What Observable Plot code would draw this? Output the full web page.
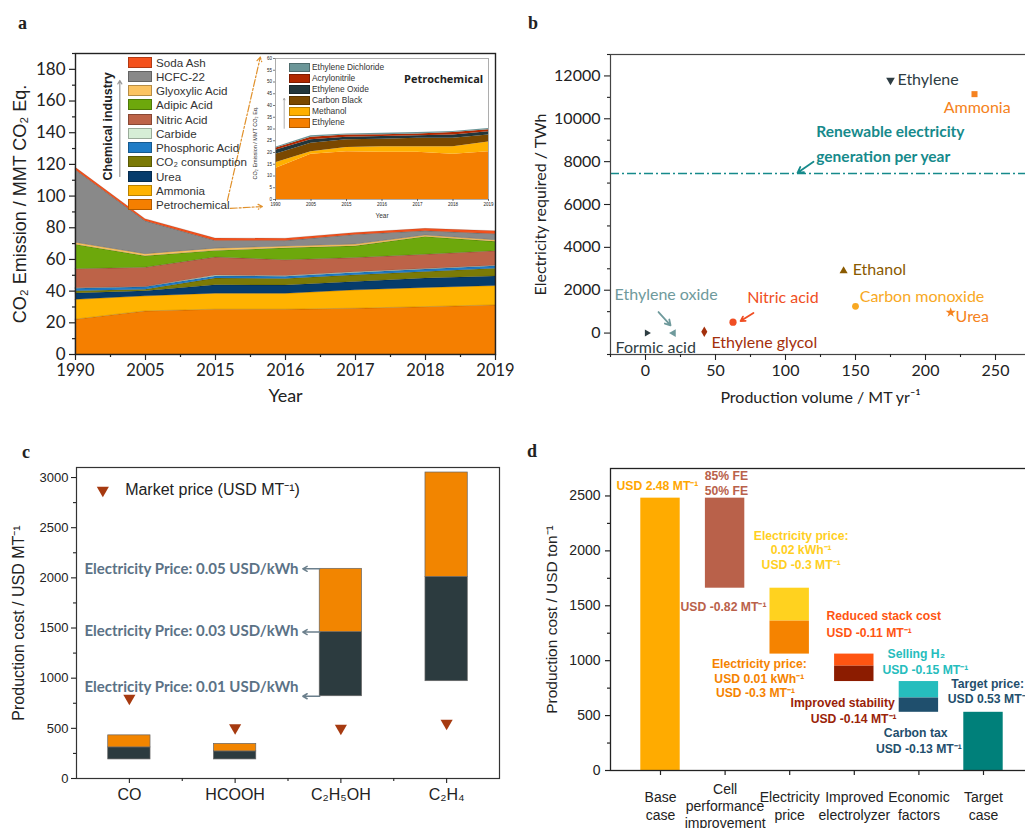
<!DOCTYPE html>
<html><head><meta charset="utf-8">
<script src="https://cdn.jsdelivr.net/npm/d3@7"></script>
<script src="https://cdn.jsdelivr.net/npm/@observablehq/plot@0.6"></script>
<style>
html,body{margin:0;padding:0;background:#fff}
body{width:1025px;height:828px;overflow:hidden;position:relative;font-family:"Liberation Sans",Arial,sans-serif;color:#222}
.box{position:absolute}
.plabel{position:absolute;font-family:"Liberation Serif","Times New Roman",serif;font-weight:bold;font-size:18px;line-height:18px}
.leg{position:absolute;white-space:nowrap}
</style></head><body>
<script>
// ================= Panel a data =================
const yearsA = ["1990","2005","2015","2016","2017","2018","2019"];
const seriesA = ["Petrochemical","Ammonia","Urea","CO₂ consumption","Phosphoric Acid","Carbide","Nitric Acid","Adipic Acid","Glyoxylic Acid","HCFC-22","Soda Ash"];
const colorsA = ["#f57f00","#ffb300","#063c6c","#7b7a06","#1f7cc6","#d6eed6","#bd6348","#6da80c","#fcc462","#898989","#f4511c"];
const petrochemicalA = [22, 27.2, 28.3, 28.3, 28.9, 29.9, 31];
const ammoniaA = [12.5, 9.5, 10.1, 10, 11.6, 12.1, 12.2];
const ureaA = [4, 3.3, 5.3, 5.2, 5.3, 5.9, 6.1];
const co2ConsumptionA = [1.5, 0.9, 4.2, 4.2, 4.2, 4.2, 4.9];
const phosphoricA = [1.5, 1.5, 1.4, 1.4, 1.5, 1.5, 1.5];
const carbideA = [0.3, 0.2, 0.5, 0.4, 0.4, 0.4, 0.4];
const nitricA = [12, 12.2, 11.4, 10, 9, 9, 9.1];
const adipicA = [15.5, 7.2, 4.2, 7.5, 7.4, 11.2, 5.9];
const glyoxylicA = [1.2, 1.3, 1.4, 1.1, 1.1, 0.9, 1];
const hcfc22A = [46, 20.8, 4.9, 3.5, 6.1, 2.7, 3.8];
const sodaAshA = [1.5, 1.3, 1.5, 1.5, 1.2, 1.5, 1.9];
const valuesA = [petrochemicalA, ammoniaA, ureaA, co2ConsumptionA, phosphoricA, carbideA, nitricA, adipicA, glyoxylicA, hcfc22A, sodaAshA];

// inset (petrochemical breakdown)
const seriesInset = ["Ethylene","Methanol","Carbon Black","Ethylene Oxide","Acrylonitrile","Ethylene Dichloride"];
const colorsInset = ["#f57f00","#ffb000","#7a4800","#22363b","#b02800","#6b9698"];
const ethyleneIn = [13.2, 19.3, 20.3, 20.1, 20.1, 19.3, 20.3];
const methanolIn = [2.4, 1.0, 1.8, 2.4, 2.4, 3.2, 4.2];
const carbonBlackIn = [3.7, 3.6, 3.3, 3.1, 3.6, 3.6, 3.0];
const ethyleneOxideIn = [1.7, 1.5, 1.1, 1.2, 1.0, 1.3, 1.3];
const acrylonitrileIn = [0.8, 1.1, 0.9, 0.8, 0.8, 1.1, 0.9];
const edcIn = [0.4, 0.6, 0.5, 0.6, 0.6, 0.4, 0.5];
const valuesInset = [ethyleneIn, methanolIn, carbonBlackIn, ethyleneOxideIn, acrylonitrileIn, edcIn];

// ================= Panel b data =================
const chemicalsB = ["Ethylene","Ammonia","Ethanol","Carbon monoxide","Urea","Nitric acid","Ethylene glycol","Ethylene oxide","Formic acid"];
const volumeB = [175, 235, 141.5, 150, 218, 62.5, 42, 20, 1];
const electricityB = [11800, 11150, 2900, 1250, 960, 510, 60, 0, 0];
const symbolB = ["triangle","square","triangle","circle","star","circle","diamond","triangle","triangle"];
const rotateB = [180, 0, 0, 0, 0, 0, 0, -90, 90];
const sizeB = [3.2, 3.4, 3, 3.4, 3.2, 3.6, 3.2, 2.9, 2.6];
const colorB = ["#2e3d43","#f58220","#8a5a00","#f8a823","#f58220","#f04e23","#a3300c","#6f9a9c","#2e3d43"];
const labelXB = [180, 213, 148, 153, 221.5, 72.6, 47.1, -22.1, -21.4];
const labelYB = [11810, 10520, 2930, 1670, 740, 1620, -480, 1770, -700];
const renewableB = 7450;
const renewableTextB = ["Renewable electricity", "generation per year"];
const renewableTextYB = [9380, 8210];
const arrowsB = [
  {x1: 120, y1: 7995, x2: 108.6, y2: 7480, c: "#168a8b"},
  {x1: 77.1, y1: 935, x2: 67.9, y2: 560, c: "#f04e23"},
  {x1: 9.3, y1: 980, x2: 17.9, y2: 360, c: "#6f9a9c"}
];

// ================= Panel c data =================
const productsC = ["CO","HCOOH","C₂H₅OH","C₂H₄"];
const costLowC = [190, 190, 820, 970];
const costMidC = [310, 270, 1460, 2010];
const costHighC = [430, 345, 2090, 3050];
const marketC = [800, 505, 500, 550];
const elecPriceTextC = ["Electricity Price: 0.05 USD/kWh","Electricity Price: 0.03 USD/kWh","Electricity Price: 0.01 USD/kWh"];
const elecPriceYC = [2084, 1468, 909];
const elecPriceArrowYC = [2090, 1460, 820];

// ================= Panel d data =================
const stepsD = ["Base\ncase","Cell\nperformance\nimprovement","Electricity\nprice","Improved\nelectrolyzer","Economic\nfactors","Target\ncase"];
const segStepD = [0, 1, 2, 2, 3, 3, 4, 4, 5];
const segLowD = [0, 1660, 1360, 1060, 950, 810, 660, 530, 0];
const segHighD = [2480, 2480, 1660, 1360, 1060, 950, 810, 660, 530];
const segColorD = ["#ffab00","#b9614a","#ffd21f","#f58300","#ff5512","#8c1c00","#26bdbd","#1f4f6d","#00807a"];
const annTextD = ["USD 2.48 MT⁻¹","85% FE","50% FE","USD -0.82 MT⁻¹","Reduced stack cost","USD -0.11 MT⁻¹","Target price:","USD 0.53 MT⁻¹",
  "Electricity price:","0.02 kWh⁻¹","USD -0.3 MT⁻¹","Electricity price:","USD 0.01 kWh⁻¹","USD -0.3 MT⁻¹","Selling H₂","USD -0.15 MT⁻¹","Improved stability","USD -0.14 MT⁻¹","Carbon tax","USD -0.13 MT⁻¹"];
const annXD = [-0.681, 0.686, 0.686, 0.31, 2.57, 2.57, 4.50, 4.447,
  2.178, 2.178, 2.178, 1.53, 1.53, 1.47, 3.96, 4.10, 2.82, 2.99, 3.95, 4.0];
const annYD = [2594, 2685, 2545, 1486, 1410, 1253, 783, 649,
  2139, 2008, 1866, 971, 834, 703, 1056, 916, 612, 467, 339, 197];
const annColorD = ["#ffa600","#b9614a","#b9614a","#b9614a","#ff5512","#ff5512","#1f4f6d","#1f4f6d",
  "#ffcf1f","#ffcf1f","#ffcf1f","#f58300","#f58300","#f58300","#26bdbd","#26bdbd","#9a2308","#9a2308","#1f4f6d","#1f4f6d"];
const annAnchorD = ["start","start","start","start","start","start","start","start",
  "middle","middle","middle","middle","middle","middle","middle","middle","middle","middle","middle","middle"];

// ================= helpers =================
function place(el, left, top, w) {
  const d = document.createElement("div");
  d.className = "box";
  d.style.left = left + "px"; d.style.top = top + "px";
  if (w) d.style.width = w + "px";
  d.appendChild(el);
  document.body.appendChild(d);
  return d;
}
function addText(txt, left, top, css) {
  const d = document.createElement("div");
  d.className = "leg";
  d.style.left = left + "px"; d.style.top = top + "px";
  d.style.cssText += css || "";
  d.textContent = txt;
  document.body.appendChild(d);
  return d;
}
function addSwatch(left, top, w, h, color) {
  const d = document.createElement("div");
  d.className = "box";
  d.style.cssText += `left:${left}px;top:${top}px;width:${w}px;height:${h}px;background:${color};box-sizing:border-box;border:1px solid rgba(0,0,0,0.28)`;
  document.body.appendChild(d);
}
const baseStyle = (ff, fs) => ({fontFamily: ff, fontSize: fs, background: "transparent", color: "#222", maxWidth: "none", overflow: "visible"});
const plain = d => String(d);

// ================= Panel a =================
const rowsA = seriesA.flatMap((s, k) => valuesA[k].map((v, i) => ({i, s, v})));
const plotA = Plot.plot({
  width: 510, height: 420,
  marginLeft: 75, marginRight: 15, marginTop: 53, marginBottom: 66,
  style: baseStyle("Lato", "16px"),
  x: {domain: [0, 6]},
  y: {domain: [0, 190]},
  color: {domain: seriesA, range: colorsA},
  marks: [
    Plot.areaY(rowsA, {x: "i", y: "v", fill: "s", order: seriesA, stroke: "rgba(0,0,0,0.22)", strokeWidth: 0.6}),
    Plot.arrow([{x1: 2.21, y1: 92.2, x2: 2.67, y2: 93.4}, {x1: 2.17, y1: 97.2, x2: 2.64, y2: 187.7}],
      {x1: "x1", y1: "y1", x2: "x2", y2: "y2", stroke: "#e0902a", strokeWidth: 1.2, strokeDasharray: "7,2,2,2", headLength: 6}),
    Plot.arrow([{x1: 0.633, y1: 112.4, x2: 0.633, y2: 173}], {x1: "x1", y1: "y1", x2: "x2", y2: "y2", stroke: "#999", strokeWidth: 1.2, headLength: 5}),
    Plot.text(["Chemical industry"], {x: 0.461, y: 144, rotate: -90, fontWeight: "bold", fontSize: 12.5, fontFamily: "Liberation Sans", fill: "#222"}),
    Plot.frame({stroke: "#222", strokeWidth: 1.4}),
    Plot.axisY({ticks: d3.range(0, 181, 20), tickFormat: plain, tickSize: 6, tickPadding: 4, label: null, fontSize: 17, strokeWidth: 1.2}),
    Plot.axisY({ticks: d3.range(10, 191, 20), tickSize: 3, tickFormat: () => "", label: null, strokeWidth: 1.2}),
    Plot.axisX({ticks: d3.range(7), tickFormat: i => yearsA[i], tickSize: 6, tickPadding: 4, label: null, fontSize: 16.5, strokeWidth: 1.2}),
    Plot.axisX({ticks: d3.range(0.5, 6, 1), tickSize: 3, tickFormat: () => "", label: null, strokeWidth: 1.2}),
    Plot.text(["Year"], {frameAnchor: "bottom", dy: 47, fontSize: 18, fontFamily: "Lato", fill: "#222"}),
    Plot.text(["CO₂ Emission / MMT CO₂ Eq."], {frameAnchor: "left", textAnchor: "middle", rotate: -90, dx: -55, fontSize: 18, fontFamily: "Liberation Sans", fill: "#222"})
  ]
});
place(plotA, 0, 0, 510);

// inset
const rowsIn = seriesInset.flatMap((s, k) => valuesInset[k].map((v, i) => ({i, s, v})));
const plotIn = Plot.plot({
  width: 260, height: 175,
  marginLeft: 35, marginRight: 12, marginTop: 8, marginBottom: 26,
  style: baseStyle("Liberation Sans", "4.5px"),
  x: {domain: [0, 6]},
  y: {domain: [0, 60]},
  color: {domain: seriesInset, range: colorsInset},
  marks: [
    Plot.areaY(rowsIn, {x: "i", y: "v", fill: "s", order: seriesInset}),
    Plot.arrow([{x1: 0.245, y1: 30.3, x2: 0.245, y2: 43}], {x1: "x1", y1: "y1", x2: "x2", y2: "y2", stroke: "#999", strokeWidth: 0.8, headLength: 3}),
    Plot.frame({stroke: "#999", strokeWidth: 0.8}),
    Plot.axisY({ticks: d3.range(0, 61, 5), tickSize: 2, tickPadding: 1.5, label: null, fontSize: 4.5, strokeWidth: 0.6}),
    Plot.axisX({ticks: d3.range(7), tickFormat: i => yearsA[i], tickSize: 2, tickPadding: 1.5, label: null, fontSize: 4.5, strokeWidth: 0.6}),
    Plot.text(["Year"], {frameAnchor: "bottom", dy: 18, fontSize: 6.5, fill: "#333"}),
    Plot.text(["CO₂ Emission / MMT CO₂ Eq."], {frameAnchor: "left", textAnchor: "middle", rotate: -90, dx: -20, dy: 14, fontSize: 5.5, fill: "#333"})
  ]
});
place(plotIn, 240, 50, 260);

// legend panel a
seriesA.slice().reverse().forEach((s, j) => {
  const k = seriesA.indexOf(s);
  const cy = 62 + j * 14.25;
  addSwatch(128, cy - 5.5, 24, 11, colorsA[k]);
  addText(s, 156, cy - 7.5, "font-size:11.6px;line-height:15px;color:#333");
});
// legend inset
seriesInset.slice().reverse().forEach((s, j) => {
  const k = seriesInset.indexOf(s);
  const cy = 67.4 + j * 11.1;
  addSwatch(289, cy - 4.7, 20.5, 9.4, colorsInset[k]);
  addText(s, 312, cy - 5.5, "font-size:8.4px;line-height:11px;color:#333");
});
addText("Petrochemical", 404, 72, "font-size:11px;line-height:14px;font-weight:bold;color:#222;font-family:'Open Sans',sans-serif");

// ================= Panel b =================
const pointsB = chemicalsB.map((c, k) => ({c, x: volumeB[k], y: electricityB[k], sym: symbolB[k], rot: rotateB[k], r: sizeB[k], col: colorB[k], lx: labelXB[k], ly: labelYB[k]}));
const plotB = Plot.plot({
  width: 525, height: 420,
  marginLeft: 100, marginRight: 5, marginTop: 54, marginBottom: 66,
  style: baseStyle("Lato", "16px"),
  x: {domain: [-25, 275]},
  y: {domain: [-1000, 13000]},
  color: {type: "identity"},
  marks: [
    Plot.ruleY([renewableB], {stroke: "#168a8b", strokeWidth: 1.6, strokeDasharray: "9,3,2,3"}),
    ...pointsB.map(p => Plot.dot([p], {x: "x", y: "y", symbol: p.sym, rotate: p.rot, r: p.r, fill: p.col, stroke: null})),
    Plot.text(pointsB, {x: "lx", y: "ly", text: "c", fill: "col", textAnchor: "start", fontSize: 16, fontFamily: "Lato"}),
    Plot.text(renewableTextB, {x: 122, y: (d, i) => renewableTextYB[i], text: d => d, textAnchor: "start", fill: "#168a8b", fontWeight: "bold", fontSize: 15.5, fontFamily: "Lato"}),
    Plot.arrow(arrowsB, {x1: "x1", y1: "y1", x2: "x2", y2: "y2", stroke: "c", strokeWidth: 1.8, headLength: 6}),
    Plot.frame({stroke: "#444", strokeWidth: 1.2}),
    Plot.axisY({ticks: d3.range(0, 12001, 2000), tickFormat: plain, tickSize: 6, tickPadding: 4, label: null, fontSize: 16, strokeWidth: 1.1}),
    Plot.axisY({ticks: d3.range(-1000, 13001, 2000), tickSize: 3, tickFormat: () => "", label: null, strokeWidth: 1.1}),
    Plot.axisX({ticks: d3.range(0, 251, 50), tickFormat: plain, tickSize: 6, tickPadding: 4, label: null, fontSize: 16, strokeWidth: 1.1}),
    Plot.axisX({ticks: d3.range(-25, 276, 50), tickSize: 3, tickFormat: () => "", label: null, strokeWidth: 1.1}),
    Plot.text(["Production volume / MT yr⁻¹"], {frameAnchor: "bottom", dy: 48, fontSize: 16, fontFamily: "Lato", fill: "#222"}),
    Plot.text(["Electricity required / TWh"], {frameAnchor: "left", textAnchor: "middle", rotate: -90, dx: -70, fontSize: 16, fontFamily: "Lato", fill: "#222"})
  ]
});
place(plotB, 510, 0, 525);

// ================= Panel c =================
const idxC = d3.range(productsC.length);
const plotC = Plot.plot({
  width: 510, height: 398,
  marginLeft: 76, marginRight: 11, marginTop: 37, marginBottom: 50,
  style: baseStyle("Liberation Sans", "13px"),
  x: {domain: [-0.5, 3.5]},
  y: {domain: [0, 3100]},
  color: {type: "identity"},
  marks: [
    Plot.rect(idxC, {x1: i => i - 0.2, x2: i => i + 0.2, y1: i => costLowC[i], y2: i => costMidC[i], fill: "#2c3b3f", stroke: "#666", strokeWidth: 0.7}),
    Plot.rect(idxC, {x1: i => i - 0.2, x2: i => i + 0.2, y1: i => costMidC[i], y2: i => costHighC[i], fill: "#f28500", stroke: "#666", strokeWidth: 0.7}),
    Plot.dot(idxC, {x: i => i, y: i => marketC[i], symbol: "triangle", rotate: 180, r: 4.5, fill: "#a63a10", stroke: null}),
    Plot.dot([0], {x: -0.251, y: 2873, symbol: "triangle", rotate: 180, r: 4.5, fill: "#a63a10", stroke: null}),
    Plot.text(["Market price (USD MT⁻¹)"], {x: -0.04, y: 2873, textAnchor: "start", fontSize: 16, fill: "#222"}),
    Plot.text(elecPriceTextC, {x: 1.6, y: (d, i) => elecPriceYC[i], text: d => d, textAnchor: "end", fill: "#5b7286", fontWeight: "bold", fontSize: 15, fontFamily: "Lato"}),
    Plot.arrow(elecPriceArrowYC, {x1: 1.8, x2: 1.64, y1: d => d, y2: d => d, stroke: "#6b7f8c", strokeWidth: 1.5, headLength: 5}),
    Plot.frame({stroke: "#333", strokeWidth: 1.2}),
    Plot.axisY({ticks: d3.range(0, 3001, 500), tickFormat: plain, tickSize: 5, tickPadding: 3, label: null, fontSize: 13, strokeWidth: 1.1}),
    Plot.axisY({ticks: d3.range(250, 3100, 500), tickSize: 3, tickFormat: () => "", label: null, strokeWidth: 1.1}),
    Plot.axisX({ticks: idxC, tickFormat: i => productsC[i], tickSize: 5, tickPadding: 5, label: null, fontSize: 16, strokeWidth: 1.1}),
    Plot.axisX({ticks: [0.5, 1.5, 2.5], tickSize: 3, tickFormat: () => "", label: null, strokeWidth: 1.1}),
    Plot.text(["Production cost / USD MT⁻¹"], {frameAnchor: "left", textAnchor: "middle", rotate: -90, dx: -58, fontSize: 16, fill: "#222"})
  ]
});
place(plotC, 0, 430, 510);

// ================= Panel d =================
const segIdx = d3.range(segStepD.length);
const annD = annTextD.map((t, k) => ({t, x: annXD[k], y: annYD[k], c: annColorD[k], a: annAnchorD[k]}));
const plotD = Plot.plot({
  width: 530, height: 398,
  marginLeft: 100, marginRight: 5, marginTop: 38, marginBottom: 58,
  style: baseStyle("Liberation Sans", "14px"),
  x: {domain: [-0.774, 5.805]},
  y: {domain: [0, 2750]},
  color: {type: "identity"},
  marks: [
    Plot.rect(segIdx, {x1: k => segStepD[k] - 0.305, x2: k => segStepD[k] + 0.305, y1: k => segLowD[k], y2: k => segHighD[k], fill: k => segColorD[k]}),
    Plot.text(annD.filter(d => d.a === "start"), {x: "x", y: "y", text: "t", fill: "c", textAnchor: "start", fontWeight: "bold", fontSize: 12.2}),
    Plot.text(annD.filter(d => d.a === "middle"), {x: "x", y: "y", text: "t", fill: "c", textAnchor: "middle", fontWeight: "bold", fontSize: 12.2}),
    Plot.frame({stroke: "#222", strokeWidth: 1.3}),
    Plot.axisY({ticks: d3.range(0, 2501, 500), tickFormat: plain, tickSize: 5, tickPadding: 5, label: null, fontSize: 14, strokeWidth: 1.2}),
    Plot.axisY({ticks: d3.range(250, 2750, 500), tickSize: 3, tickFormat: () => "", label: null, strokeWidth: 1.2}),
    Plot.axisX({ticks: d3.range(6), tickSize: 5, tickFormat: () => "", label: null, strokeWidth: 1.2}),
    Plot.text(d3.range(6), {x: i => i, text: i => stepsD[i], frameAnchor: "bottom", dy: 35, lineAnchor: "middle", fontSize: 14, lineHeight: 1.22, fill: "#222"}),
    Plot.text(["Production cost / USD ton⁻¹"], {frameAnchor: "left", textAnchor: "middle", rotate: -90, dx: -58, fontSize: 15.5, fill: "#222"})
  ]
});
place(plotD, 510, 430, 530);

// panel labels
[["a", 18, 14], ["b", 528, 14], ["c", 22, 443], ["d", 527, 442]].forEach(([t, l, tp]) => {
  const d = document.createElement("div");
  d.className = "plabel"; d.style.left = l + "px"; d.style.top = tp + "px"; d.textContent = t;
  document.body.appendChild(d);
});
</script>
</body></html>
